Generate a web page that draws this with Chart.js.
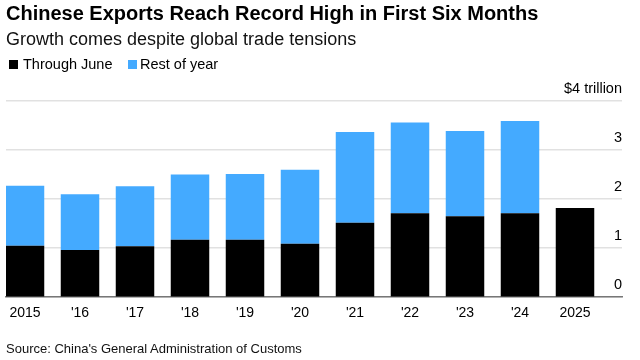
<!DOCTYPE html>
<html>
<head>
<meta charset="utf-8">
<script src="https://cdn.jsdelivr.net/npm/chart.js@4/dist/chart.umd.min.js"></script>
<style>
  html, body { margin: 0; padding: 0; background: #fff; }
  #wrap { position: relative; width: 640px; height: 360px; overflow: hidden; font-family: "Liberation Sans", Arial, sans-serif; }
  #chart { position: absolute; left: 0; top: 0; }
  .txt { position: absolute; left: 6px; white-space: nowrap; color: #000; line-height: 1; }
  #title { top: 3px; font-weight: bold; font-size: 20px; }
  #subtitle { top: 30px; font-size: 18px; color: #111; }
  #source { top: 342px; left: 6px; font-size: 13px; color: #111; }
  #legend { position: absolute; left: 0; top: 56px; height: 20px; }
  .item { position: absolute; top: 0; white-space: nowrap; font-size: 14.5px; line-height: 1; color: #000; }
  .sw { position: absolute; top: 3.5px; width: 9px; height: 9px; }
  .lab { position: absolute; top: 0.5px; }
</style>
</head>
<body>
<div id="wrap">
  <canvas id="chart" width="640" height="360"></canvas>
  <div class="txt" id="title">Chinese Exports Reach Record High in First Six Months</div>
  <div class="txt" id="subtitle">Growth comes despite global trade tensions</div>
  <div id="legend"></div>
  <div class="txt" id="source">Source: China's General Administration of Customs</div>
</div>
<script>
const years = ["2015", "'16", "'17", "'18", "'19", "'20", "'21", "'22", "'23", "'24", "2025"];
const throughJune = [1.05, 0.96, 1.04, 1.17, 1.17, 1.09, 1.52, 1.71, 1.65, 1.71, 1.82];
const restOfYear = [1.22, 1.14, 1.22, 1.33, 1.34, 1.51, 1.85, 1.85, 1.74, 1.88, null];
const yTicks = [0, 1, 2, 3, 4];
const yTopLabel = "$4 trillion";
const seriesNames = ["Through June", "Rest of year"];
const seriesColors = ["#000000", "#44aaff"];

const toPoints = arr => arr.map((v, i) => ({ x: i, y: v }));

const chart = new Chart(document.getElementById('chart'), {
  type: 'bar',
  data: {
    datasets: [
      { label: seriesNames[0], data: toPoints(throughJune), backgroundColor: seriesColors[0], borderWidth: 0 },
      { label: seriesNames[1], data: toPoints(restOfYear), backgroundColor: seriesColors[1], borderWidth: 0 }
    ]
  },
  options: {
    responsive: false,
    animation: false,
    barPercentage: 0.7,
    categoryPercentage: 1.0,
    layout: { padding: { top: 101, right: 18, bottom: 31, left: 6 } },
    plugins: {
      legend: { display: false },
      tooltip: { enabled: false }
    },
    scales: {
      x: {
        type: 'linear',
        offset: false,
        stacked: true,
        min: -0.3455,
        max: 10.8545,
        grid: { display: false, drawTicks: false, offset: false },
        border: { display: true, color: '#777', width: 1.5 },
        afterBuildTicks: (axis) => { axis.ticks = years.map((_, i) => ({ value: i })); },
        ticks: {
          autoSkip: false, maxRotation: 0, padding: 7.5, color: '#000',
          font: { family: '"Liberation Sans", Arial, sans-serif', size: 14 },
          callback: (v) => years[v]
        }
      },
      y: {
        position: 'right',
        stacked: true,
        min: 0,
        max: 4,
        grid: { color: '#e1e1e1', lineWidth: 1.5, drawTicks: false },
        border: { display: false },
        afterBuildTicks: (axis) => { axis.ticks = yTicks.map(v => ({ value: v })); },
        ticks: {
          mirror: true, padding: 0, labelOffset: -12, color: '#000',
          font: { family: '"Liberation Sans", Arial, sans-serif', size: 14.5 },
          callback: (v) => v === 4 ? yTopLabel : String(v)
        }
      }
    }
  }
});

// HTML legend built from the chart's datasets
const legendPos = [{ box: 9, text: 23 }, { box: 128, text: 140 }];
const legendEl = document.getElementById('legend');
chart.data.datasets.forEach((ds, i) => {
  const item = document.createElement('div');
  item.className = 'item';
  item.style.left = '0px';
  const sw = document.createElement('span');
  sw.className = 'sw';
  sw.style.left = legendPos[i].box + 'px';
  sw.style.background = ds.backgroundColor;
  const lab = document.createElement('span');
  lab.className = 'lab';
  lab.style.left = legendPos[i].text + 'px';
  lab.textContent = ds.label;
  item.appendChild(sw);
  item.appendChild(lab);
  legendEl.appendChild(item);
});
</script>
</body>
</html>
